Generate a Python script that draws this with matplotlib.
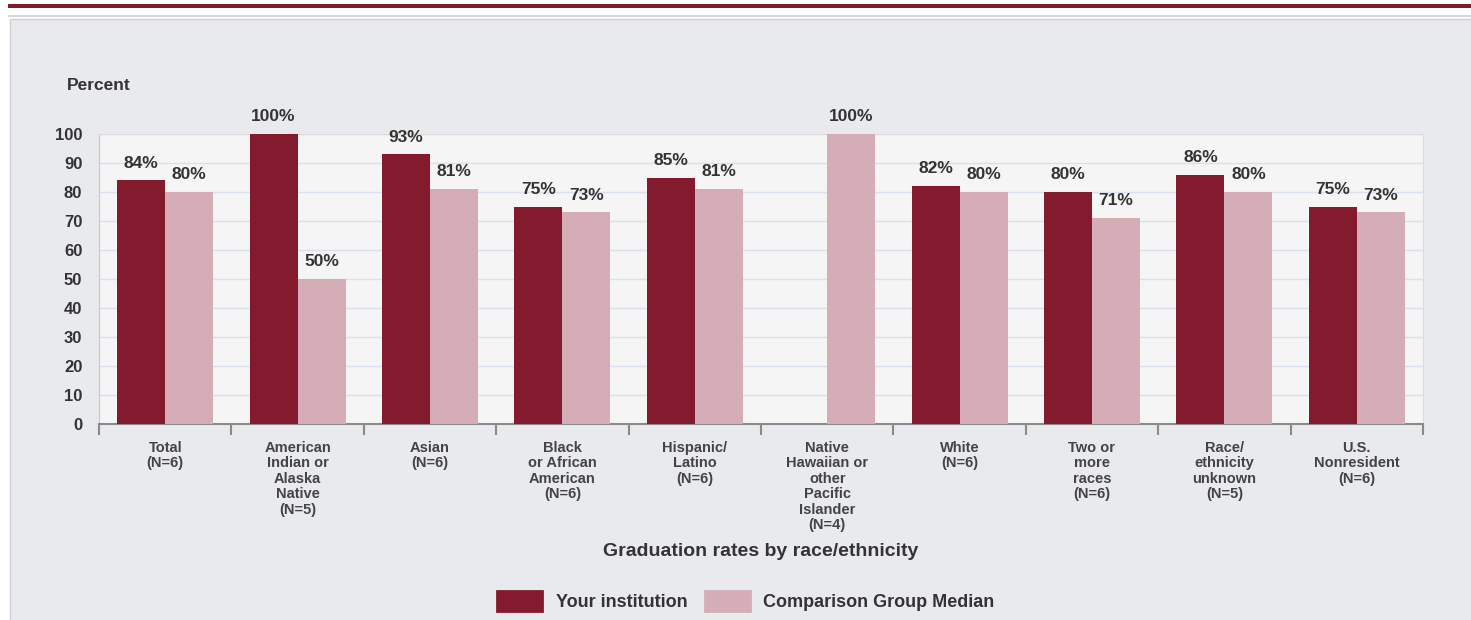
import numpy as np
import matplotlib.pyplot as plt
from matplotlib.patches import Rectangle, Patch

plt.rcParams['font.family'] = ['Liberation Sans', 'DejaVu Sans']

# Graduation rates by race/ethnicity
categories = ["Total\n(N=6)",
              "American\nIndian or\nAlaska\nNative\n(N=5)",
              "Asian\n(N=6)",
              "Black\nor African\nAmerican\n(N=6)",
              "Hispanic/\nLatino\n(N=6)",
              "Native\nHawaiian or\nother\nPacific\nIslander\n(N=4)",
              "White\n(N=6)",
              "Two or\nmore\nraces\n(N=6)",
              "Race/\nethnicity\nunknown\n(N=5)",
              "U.S.\nNonresident\n(N=6)"]
your_inst = [84, 100, 93, 75, 85, None, 82, 80, 86, 75]
comp_median = [80, 50, 81, 73, 81, 100, 80, 71, 80, 73]

dark = '#841a2d'
light = '#d4adb6'
txt = '#333333'

fig = plt.figure(figsize=(14.71, 6.2), dpi=100)
fig.patch.set_facecolor('white')

# page decorations: red rule, grey rule, grey panel
fig.patches.append(Rectangle((8 / 1471, 1 - 8 / 620), 1, 4 / 620, transform=fig.transFigure,
                             facecolor=dark, edgecolor='none', zorder=-2))
fig.patches.append(Rectangle((8 / 1471, 1 - 17 / 620), 1, 2 / 620, transform=fig.transFigure,
                             facecolor='#d6d6d6', edgecolor='none', zorder=-2))
fig.patches.append(Rectangle((10 / 1471, -0.01), 1, 1 - 19 / 620 + 0.01, transform=fig.transFigure,
                             facecolor='#e9eaee', edgecolor='#d0d0d4', linewidth=1, zorder=-2))

ax = fig.add_axes([99 / 1471, 1 - 424 / 620, (1423 - 99) / 1471, 290 / 620])
ax.set_facecolor('#f5f5f6')

x = np.arange(len(categories))
w = 0.3625
y1 = [np.nan if v is None else v for v in your_inst]
b1 = ax.bar(x - w / 2, y1, w, color=dark, label='Your institution', zorder=3)
b2 = ax.bar(x + w / 2, comp_median, w, color=light, label='Comparison Group Median', zorder=3)

for bars, vals in ((b1, your_inst), (b2, comp_median)):
    for r, v in zip(bars, vals):
        if v is None:
            continue
        ax.annotate(f"{v}%", (r.get_x() + r.get_width() / 2, v), xytext=(0, 7),
                    textcoords='offset points', ha='center', va='bottom',
                    fontsize=12.5, color=txt, fontweight='semibold')

ax.set_xlim(-0.5, len(categories) - 0.5)
ax.set_ylim(0, 100)
ax.set_yticks(np.arange(0, 101, 10))
ax.yaxis.grid(True, color='#d9e0ee', linewidth=1, zorder=0)
ax.tick_params(axis='y', length=0, pad=12, labelsize=12, labelcolor=txt)
for lab in ax.get_yticklabels():
    lab.set_fontweight('semibold')

ax.set_xticks(x)
ax.set_xticklabels(categories, fontsize=10.5, color='#444444', linespacing=1.14,
                   fontweight='semibold')
ax.tick_params(axis='x', length=0, pad=12)
ax.set_xticks(np.arange(-0.5, len(categories), 1), minor=True)
ax.tick_params(axis='x', which='minor', length=8, width=1.5, color='#8a8a8a', direction='out')

for s in ('top', 'right'):
    ax.spines[s].set_color('#dcdcdc')
ax.spines['left'].set_color('#c8c8cc')
ax.spines['bottom'].set_color('#8a8a8a')
ax.spines['bottom'].set_linewidth(1.5)

fig.text(67 / 1471, 1 - 85 / 620, 'Percent', fontsize=12.5, color=txt, fontweight='semibold',
         ha='left', va='center')
fig.text(761 / 1471, 1 - 551 / 620, 'Graduation rates by race/ethnicity', fontsize=14,
         color=txt, fontweight='semibold', ha='center', va='center')

handles = [Patch(facecolor=dark, edgecolor=dark, joinstyle='round', linewidth=2),
           Patch(facecolor=light, edgecolor=light, joinstyle='round', linewidth=2)]
leg = fig.legend(handles, ['Your institution', 'Comparison Group Median'], loc='center',
                 bbox_to_anchor=(746 / 1471, 1 - 601 / 620), ncol=2, frameon=False,
                 prop={'size': 13, 'weight': 'semibold'}, handlelength=2.5, handleheight=1.4,
                 handletextpad=0.75, columnspacing=0.95, labelcolor=txt)

fig.savefig('out.png', dpi=100)
